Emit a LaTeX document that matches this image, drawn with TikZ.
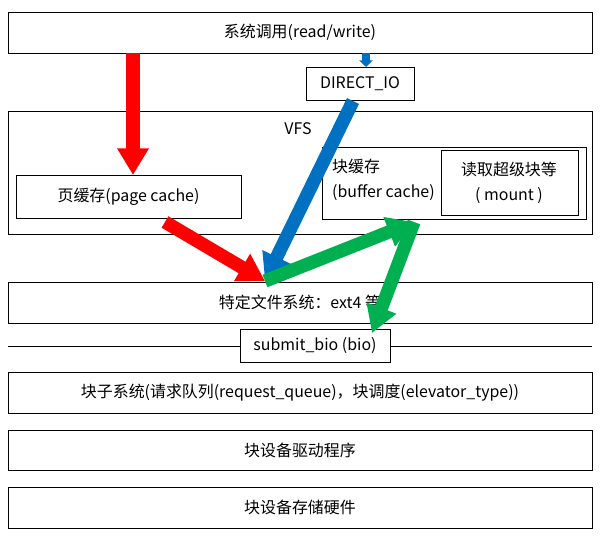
\documentclass[tikz,border=0pt]{standalone}
\usepackage{fontspec}
\setmainfont{Noto Sans CJK SC}
\usetikzlibrary{arrows.meta}
\tikzset{
  every node/.style={font=\fontsize{13.6}{21}\selectfont},
  fat/.style={line width=4mm,-{Triangle[width=9mm,length=8mm]}},
}
\definecolor{ared}{RGB}{255,0,0}
\definecolor{ablue}{RGB}{0,112,192}
\definecolor{agreen}{RGB}{0,176,80}
\begin{document}
\begin{tikzpicture}[x=0.03cm,y=-0.03cm]
                \useasboundingbox (0,0) rectangle (600,540);

                % layers
                \draw (8,12) rectangle (592,53) node[midway] (sys) {系统调用(read/write)};
                \draw (8,111) rectangle (592,234);
                \node (vfs) at (298,129) {VFS};
                \draw (16,175) rectangle (241,218) node[midway] (page) {页缓存(page cache)};
                \draw (322,147) rectangle (586,219);
                \node[align=left,anchor=west] (buf) at (328,180) {块缓存\\(buffer cache)};
                \draw (441,150) rectangle (578,215);
                \node[align=center] (sb) at (509,183) {读取超级块等\\( mount )};
                \draw (8,282) rectangle (592,323) node[midway] (fs) {特定文件系统：ext4 等};
                \draw (8,346) -- (240,346) (390,346) -- (592,346);
                \draw (240,329) rectangle (390,362) node[midway] (bio) {submit\_bio (bio)};
                \draw (8,372) rectangle (592,413) node[midway] (blk) {块子系统(请求队列(request\_queue)，块调度(elevator\_type))};
                \draw (8,430) rectangle (592,470) node[midway] (drv) {块设备驱动程序};
                \draw (8,487) rectangle (592,528) node[midway] (hw) {块设备存储硬件};

                % the small io box sits over the syscall box edge
                \draw[ablue,line width=2.2mm,-{Triangle[width=4mm,length=2mm]}] (366,53) -- (366,67);
                \draw[fill=white] (306,67) rectangle (414,100) node[midway] (dio) {DIRECT\_IO};

                % paths
                \coordinate (hub) at (265,281);
                \coordinate (turn) at (414,222);
                \draw[fat,ared] (133,53) -- (133,175);
                \draw[fat,ared] (165,222) -- (hub);
                \draw[fat,ablue] (353,101) -- (hub);
                \draw[fat,agreen] (hub) -- (turn);
                \draw[fat,agreen] (turn) -- (372,333);
\end{tikzpicture}
\end{document}
